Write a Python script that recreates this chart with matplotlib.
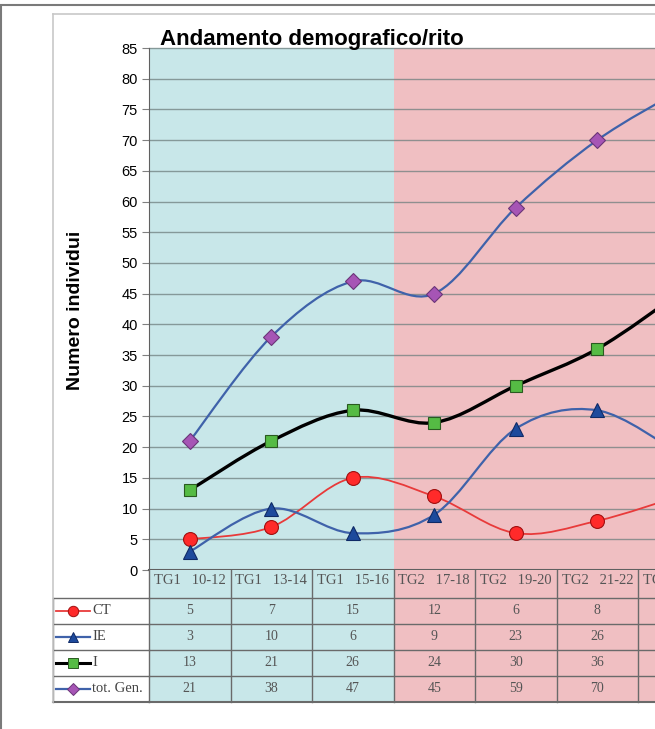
import numpy as np
import matplotlib
matplotlib.use("Agg")
import matplotlib.pyplot as plt
from matplotlib.path import Path
from matplotlib.patches import PathPatch, Rectangle
from matplotlib.lines import Line2D

# dati
categorie = ["TG1   10-12", "TG1   13-14", "TG1   15-16", "TG2   17-18",
             "TG2   19-20", "TG2   21-22", "TG2   23-24"]
ct = [5, 7, 15, 12, 6, 8, 12]
ie = [3, 10, 6, 9, 23, 26, 19]
i_vals = [13, 21, 26, 24, 30, 36, 45]
tot_gen = [21, 38, 47, 45, 59, 70, 78]
nomi_serie = ["CT", "IE", "I", "tot. Gen."]
n_tg1 = 3  # prime 3 colonne = TG1

W, H = 655, 729
fig = plt.figure(figsize=(W / 100, H / 100), dpi=100)
fig.patch.set_facecolor("white")

def fx(px):
    return px / W

def fy(py):
    return 1 - py / H

BLU = "#c8e7e9"
ROSA = "#f0bfc2"

# cornici esterne
fig.patches.append(Rectangle((fx(1), fy(740)), 2, fy(5) - fy(740), transform=fig.transFigure,
                             fill=False, edgecolor="#7a7a7a", lw=1.5))
fig.add_artist(Line2D([fx(53), fx(53)], [fy(14), fy(702)], color="#c8c8c8", lw=1.2))
fig.add_artist(Line2D([fx(53), 1.2], [fy(14), fy(14)], color="#c8c8c8", lw=1.2))

x0, x_end = 149, 149 + 7 * 81.5
ax = fig.add_axes([fx(x0), fy(570), (x_end - x0) / W, (570 - 48) / H])
ax.set_xlim(-0.5, len(categorie) - 0.5)
ax.set_ylim(0, 85)
ax.axvspan(-0.5, n_tg1 - 0.5, color=BLU, lw=0, zorder=0)
ax.axvspan(n_tg1 - 0.5, len(categorie) - 0.5, color=ROSA, lw=0, zorder=0)
for v in range(5, 90, 5):
    ax.axhline(v, color="#6f7f7f", lw=1.0, alpha=0.75, zorder=1, clip_on=False)
ax.set_facecolor("white")
for s in ["top", "right"]:
    ax.spines[s].set_visible(False)
ax.spines["left"].set_color("#606060")
ax.spines["bottom"].set_color("#606060")
ax.spines["bottom"].set_linewidth(1.5)
ax.set_xticks([])
ax.set_yticks(range(0, 90, 5))
ax.tick_params(axis="y", length=5, color="#808080", labelsize=10.5, pad=3)
for t in ax.get_yticklabels():
    t.set_fontfamily("Liberation Sans")

def curva(ax, valori, colore, lw):
    # linea smussata stile Excel (Bezier)
    xs = np.arange(len(valori), dtype=float)
    pts = np.column_stack([xs, np.asarray(valori, dtype=float)])
    verts = [pts[0]]
    codes = [Path.MOVETO]
    n = len(pts)
    for k in range(n - 1):
        p_prev = pts[k - 1] if k > 0 else pts[k]
        p_next2 = pts[k + 2] if k + 2 < n else pts[k + 1]
        c1 = pts[k] + (pts[k + 1] - p_prev) / 6
        c2 = pts[k + 1] - (p_next2 - pts[k]) / 6
        verts += [c1, c2, pts[k + 1]]
        codes += [Path.CURVE4] * 3
    ax.add_patch(PathPatch(Path(verts, codes), fill=False, edgecolor=colore, lw=lw, zorder=3))

stili = [
    (ct, "#e83a3a", 1.3, "o", "#ff2a2a", "#a01010", 10),
    (ie, "#3f62aa", 1.6, "^", "#1d4a9c", "#0f2a66", 10),
    (i_vals, "#000000", 2.4, "s", "#55bb44", "#2a5a20", 9),
    (tot_gen, "#3f62aa", 1.6, "D", "#a655b5", "#6a3578", 8.5),
]
xcat = np.arange(len(categorie))
for valori, col, lw, mk, fc, ec, ms in stili:
    curva(ax, valori, col, lw)
    ax.plot(xcat, valori, ls="none", marker=mk, ms=ms, mfc=fc, mec=ec, mew=0.8, zorder=4)

ax.set_title("Andamento demografico/rito", loc="left", x=0.02, y=1.0, pad=2,
             fontsize=16, fontweight="bold", fontfamily="Liberation Sans")
fig.text(fx(75), fy(310), "Numero individui", rotation=90, ha="center", va="center",
         fontsize=14, fontweight="bold", fontfamily="Liberation Sans")

# tabella dati
righe = [0, 28, 54, 80, 106, 132]
tax = fig.add_axes([fx(x0), fy(702), (x_end - x0) / W, 132 / H])
tax.set_xlim(-0.5, len(categorie) - 0.5)
tax.set_ylim(132, 0)
tax.axis("off")
tax.axvspan(-0.5, n_tg1 - 0.5, color=BLU, lw=0, zorder=0)
tax.axvspan(n_tg1 - 0.5, len(categorie) - 0.5, color=ROSA, lw=0, zorder=0)
for b in np.arange(-0.5, len(categorie), 1.0):
    tax.axvline(b, color="#6a6a6a", lw=1.0, clip_on=False)
for r in righe[1:]:
    tax.axhline(r, color="#6a6a6a", lw=1.0 if r < righe[-1] else 1.5, clip_on=False)
serif = "Liberation Serif"
for k, lab in enumerate(categorie):
    tax.text(k, (righe[0] + righe[1]) / 2 - 3, lab, ha="center", va="center",
             fontsize=10.5, fontfamily=serif, color="#555555")
tabella = [ct, ie, i_vals, tot_gen]
n_vis = 6  # l'ultima colonna e' fuori dall'immagine
for r, valori in enumerate(tabella):
    yc = (righe[r + 1] + righe[r + 2]) / 2
    for k, v in enumerate(valori[:n_vis]):
        tax.text(k, yc, str(v), ha="center", va="center", fontsize=10,
                 fontfamily=serif, color="#555555")

# colonna legenda
lax = fig.add_axes([fx(53), fy(702), (149 - 53) / W, 132 / H])
lax.set_xlim(0, 96)
lax.set_ylim(132, 0)
lax.axis("off")
for r in righe[1:]:
    lax.plot([0, 96], [r, r], color="#6a6a6a", lw=1.0 if r < righe[-1] else 1.5, clip_on=False)
lax.plot([0, 0], [righe[1], righe[-1]], color="#6a6a6a", lw=1.0, clip_on=False)
for r, (nome, st) in enumerate(zip(nomi_serie, stili)):
    _, col, lw, mk, fc, ec, ms = st
    yc = (righe[r + 1] + righe[r + 2]) / 2
    lax.plot([3, 37], [yc, yc], color=col, lw=min(lw, 2.2), clip_on=False)
    lax.plot([20], [yc], marker=mk, ms=ms * 0.75, mfc=fc, mec=ec, mew=0.7, clip_on=False)
    lax.text(39, yc, nome, ha="left", va="center", fontsize=10.5, fontfamily=serif, color="#444444")

fig.savefig("out.png", dpi=100)
